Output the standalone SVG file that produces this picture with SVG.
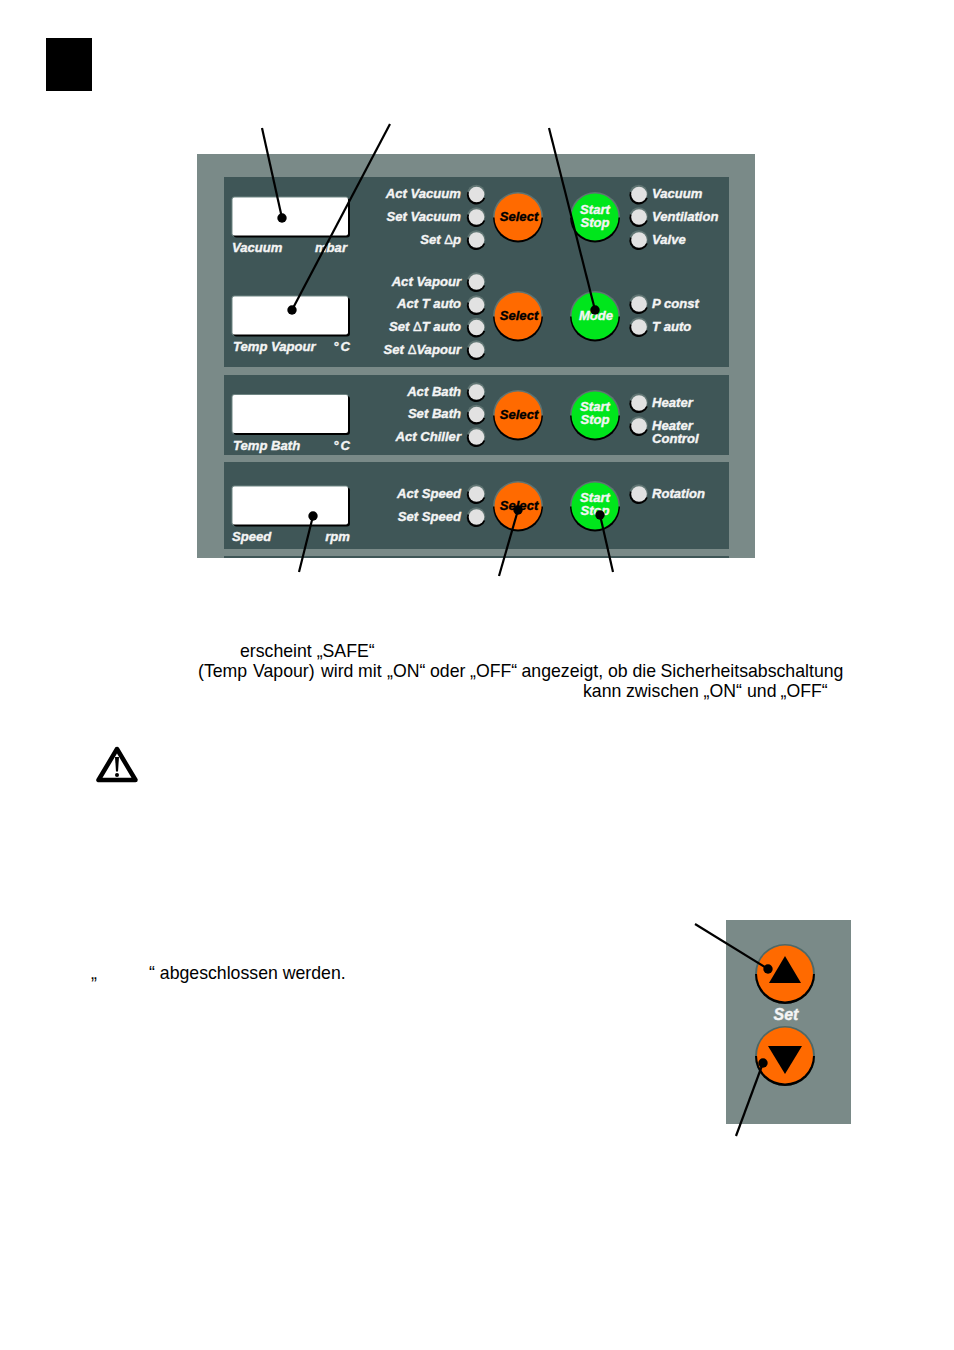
<svg xmlns="http://www.w3.org/2000/svg" width="954" height="1350" viewBox="0 0 954 1350">
<defs>
<style>
.panel{fill:#7a8a88}
.inner{fill:#3f5657}
.body{font-family:"Liberation Sans",Arial,sans-serif;font-size:17.7px;fill:#000}
.lb{font-family:"Liberation Sans",Arial,sans-serif;font-size:13.100px;font-weight:bold;font-style:italic;fill:#f4f4f4;stroke:#f4f4f4;stroke-width:.35}
.k{fill:#000;stroke:#000}
.d{font-weight:normal;font-style:normal}
.ls{letter-spacing:2px}
.e{text-anchor:end}
.m{text-anchor:middle}
.bk{fill:#000}
.up{fill:#5f7472}
.led{fill:#e2e2e2}
.or{fill:#ff6a00}
.gr{fill:#00e61c}
.conn line{stroke:#000;stroke-width:2.200;fill:none}
.conn circle{fill:#000}
</style>
<g id="ledShape">
<circle cx="-0.3" cy="-0.8" r="9" class="up"/>
<path d="M-9.500 0.500A9.500 9.500 0 0 0 9.500 0.500Z" transform="rotate(20)" class="bk"/>
<circle r="7.800" class="led"/>
</g>
<g id="dispShape">
<rect x="-1" y="-1" width="117" height="40" rx="3" fill="#6f8583"/>
<rect x="1" y="1" width="116.500" height="39" rx="3" fill="#000"/>
<rect x="0" y="0" width="115.500" height="38" rx="2" fill="#fff"/>
</g>
<g id="btnTop">
<circle r="25" class="up"/>
<path d="M-25 0A25 25 0 0 0 25 0Z" transform="translate(0,0.5)" class="bk"/>
</g>
</defs>
<rect width="954" height="1350" fill="#fff"/>
<rect id="corner-block" x="46" y="38" width="46" height="53" fill="#000"/>
<g id="main-panel">
<rect class="panel" x="197" y="154" width="558" height="404"/>
<rect class="inner" x="224" y="177" width="505" height="190"/>
<rect class="inner" x="224" y="375" width="505" height="80"/>
<rect class="inner" x="224" y="462" width="505" height="87"/>
<rect class="inner" x="224" y="556" width="505" height="2"/>
</g>
<g id="display-vacuum"><use href="#dispShape" x="232.500" y="197.500"/><text class="lb" x="232" y="252.300">Vacuum</text><text class="lb e" x="347" y="252.300">mbar</text></g>
<g id="display-vapour"><use href="#dispShape" x="232.500" y="296.500"/><text class="lb" x="233" y="351.300">Temp Vapour</text><text class="lb e ls" x="352" y="351.300">°C</text></g>
<g id="display-bath"><use href="#dispShape" x="232.500" y="395"/><text class="lb" x="233" y="450.300">Temp Bath</text><text class="lb e ls" x="352" y="450.300">°C</text></g>
<g id="display-speed"><use href="#dispShape" x="232.500" y="486.500"/><text class="lb" x="232" y="541.300">Speed</text><text class="lb e" x="350" y="541.300">rpm</text></g>
<g id="leds-vacuum">
<use href="#ledShape" x="476.500" y="194.500"/><use href="#ledShape" x="476.500" y="217"/><use href="#ledShape" x="476.500" y="240"/>
<text class="lb e" x="461" y="198.300">Act Vacuum</text><text class="lb e" x="461" y="221.300">Set Vacuum</text><text class="lb e" x="461" y="244.300">Set <tspan class="d">Δ</tspan>p</text>
</g>
<g id="leds-vapour">
<use href="#ledShape" x="476.500" y="282"/><use href="#ledShape" x="476.500" y="305"/><use href="#ledShape" x="476.500" y="327.500"/><use href="#ledShape" x="476.500" y="350"/>
<text class="lb e" x="461" y="286.300">Act Vapour</text><text class="lb e" x="461" y="308.300">Act T auto</text><text class="lb e" x="461" y="331.300">Set <tspan class="d">Δ</tspan>T auto</text><text class="lb e" x="461" y="354.300">Set <tspan class="d">Δ</tspan>Vapour</text>
</g>
<g id="leds-bath">
<use href="#ledShape" x="476.500" y="392"/><use href="#ledShape" x="476.500" y="414.500"/><use href="#ledShape" x="476.500" y="437"/>
<text class="lb e" x="461" y="396.300">Act Bath</text><text class="lb e" x="461" y="418.300">Set Bath</text><text class="lb e" x="461" y="441.300">Act Chiller</text>
</g>
<g id="leds-speed">
<use href="#ledShape" x="476.500" y="494"/><use href="#ledShape" x="476.500" y="517"/>
<text class="lb e" x="461" y="498.300">Act Speed</text><text class="lb e" x="461" y="521.300">Set Speed</text>
</g>
<g id="select-1"><use href="#btnTop" x="518" y="217"/><circle class="or" cx="518" cy="217" r="23.500"/><text class="lb m k" x="519" y="221.300">Select</text></g>
<g id="select-2"><use href="#btnTop" x="518" y="316"/><circle class="or" cx="518" cy="316" r="23.500"/><text class="lb m k" x="519" y="320.300">Select</text></g>
<g id="select-3"><use href="#btnTop" x="518" y="415"/><circle class="or" cx="518" cy="415" r="23.500"/><text class="lb m k" x="519" y="419.300">Select</text></g>
<g id="select-4"><use href="#btnTop" x="518" y="506"/><circle class="or" cx="518" cy="506" r="23.500"/><text class="lb m k" x="519" y="510.300">Select</text></g>
<g id="start-1"><use href="#btnTop" x="595" y="217"/><circle class="gr" cx="595" cy="217" r="23.500"/><text class="lb m" x="595" y="214.300">Start</text><text class="lb m" x="595" y="227.300">Stop</text></g>
<g id="mode"><use href="#btnTop" x="595" y="316"/><circle class="gr" cx="595" cy="316" r="23.500"/><text class="lb m" x="596" y="320.300">Mode</text></g>
<g id="start-2"><use href="#btnTop" x="595" y="415"/><circle class="gr" cx="595" cy="415" r="23.500"/><text class="lb m" x="595" y="411.300">Start</text><text class="lb m" x="595" y="424.300">Stop</text></g>
<g id="start-3"><use href="#btnTop" x="595" y="506"/><circle class="gr" cx="595" cy="506" r="23.500"/><text class="lb m" x="595" y="502.300">Start</text><text class="lb m" x="595" y="515.300">Stop</text></g>
<g id="leds-right-1">
<use href="#ledShape" x="639" y="194.500"/><use href="#ledShape" x="639" y="217"/><use href="#ledShape" x="639" y="240"/>
<text class="lb" x="652" y="198.300">Vacuum</text><text class="lb" x="652" y="221.300">Ventilation</text><text class="lb" x="652" y="244.300">Valve</text>
</g>
<g id="leds-right-2">
<use href="#ledShape" x="639" y="304"/><use href="#ledShape" x="639" y="327"/>
<text class="lb" x="652" y="308.300">P const</text><text class="lb" x="652" y="331.300">T auto</text>
</g>
<g id="leds-right-3">
<use href="#ledShape" x="639" y="403"/><use href="#ledShape" x="639" y="426"/>
<text class="lb" x="652" y="407.300">Heater</text><text class="lb" x="652" y="430.300">Heater</text><text class="lb" x="652" y="443.300">Control</text>
</g>
<g id="leds-right-4"><use href="#ledShape" x="639" y="494"/><text class="lb" x="652" y="498.300">Rotation</text></g>
<g id="body-text">
<text class="body" x="240" y="657">erscheint „SAFE“</text>
<text class="body" y="677"><tspan x="198">(Temp</tspan> <tspan x="253">Vapour)</tspan> <tspan x="321">wird</tspan> <tspan x="358">mit</tspan> <tspan x="387">„ON“</tspan> <tspan x="430">oder</tspan> <tspan x="470">„OFF“</tspan> <tspan x="521.500">angezeigt,</tspan> <tspan x="608">ob</tspan> <tspan x="632.500">die</tspan> <tspan x="660.500">Sicherheitsabschaltung</tspan></text>
<text class="body" y="697"><tspan x="583">kann</tspan> <tspan x="626">zwischen</tspan> <tspan x="703.500">„ON“</tspan> <tspan x="747">und</tspan> <tspan x="780.500">„OFF“</tspan></text>
<text class="body" x="91" y="979">„</text>
<text class="body" x="149" y="979">“ abgeschlossen werden.</text>
</g>
<g id="warning">
<path d="M117 749L98.500 780H135.500Z" fill="#fff" stroke="#000" stroke-width="4.500" stroke-linejoin="round"/>
<path d="M115 757H119L118 771.500H116Z" fill="#000"/>
<circle cx="117" cy="775" r="2" fill="#000"/>
</g>
<g id="set-panel">
<rect class="panel" x="726" y="920" width="125" height="204"/>
<text class="lb m" x="786" y="1020" style="font-size:16px">Set</text>
</g>
<g id="set-up">
<circle cx="785" cy="974" r="30" fill="#4f6866"/><path d="M755 974A30 30 0 0 0 815 974Z" fill="#000"/><circle class="or" cx="785" cy="973.500" r="28"/>
<path d="M785 956L801 983H769Z" fill="#000"/>
</g>
<g id="set-down">
<circle cx="785" cy="1056" r="30" fill="#4f6866"/><path d="M755 1056A30 30 0 0 0 815 1056Z" fill="#000"/><circle class="or" cx="785" cy="1055.500" r="28"/>
<path d="M768 1046H802L785 1074Z" fill="#000"/>
</g>
<g id="connectors" class="conn">
<line x1="262" y1="128" x2="282" y2="218"/><circle cx="282" cy="218" r="4.700"/>
<line x1="390" y1="124" x2="292" y2="310"/><circle cx="292" cy="310" r="4.700"/>
<line x1="549" y1="128" x2="595" y2="310"/><circle cx="595" cy="310" r="4.700"/>
<line x1="299" y1="572" x2="313" y2="516"/><circle cx="313" cy="516" r="4.700"/>
<line x1="499" y1="576" x2="518" y2="510"/><circle cx="518" cy="510" r="4.700"/>
<line x1="613" y1="572" x2="600" y2="515"/><circle cx="600" cy="515" r="4.700"/>
<line x1="695" y1="924" x2="768" y2="969"/><circle cx="768" cy="969" r="4.700"/>
<line x1="736" y1="1136" x2="763" y2="1063"/><circle cx="763" cy="1063" r="4.700"/>
</g>
</svg>
